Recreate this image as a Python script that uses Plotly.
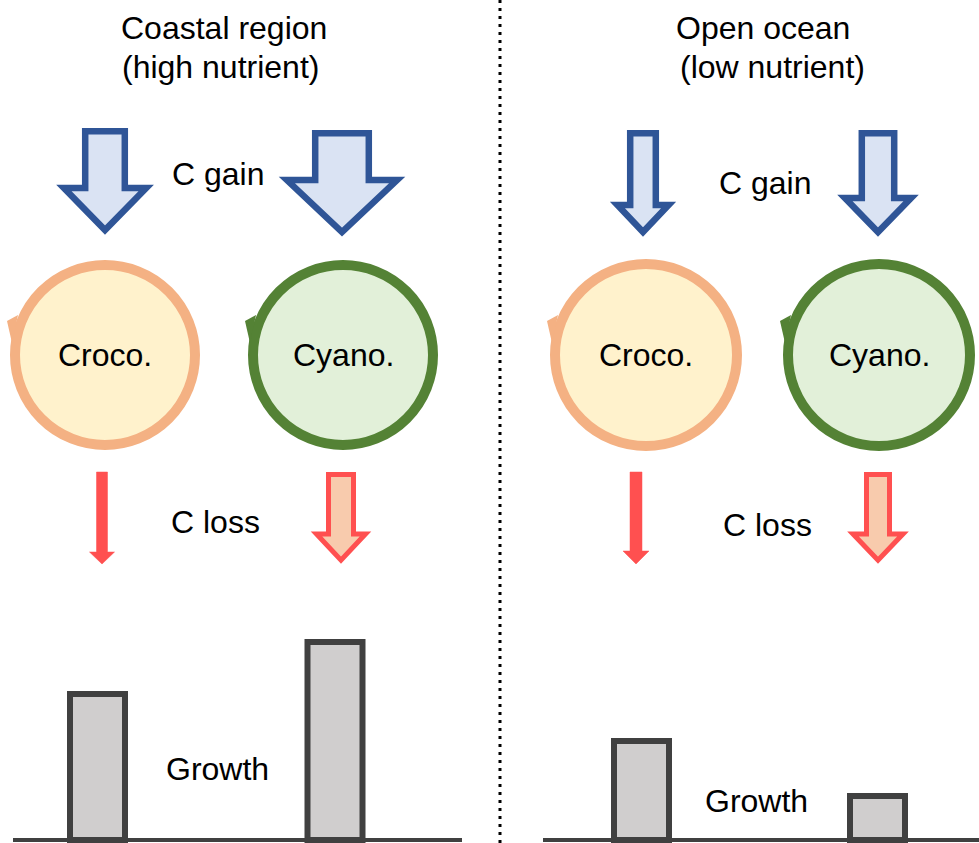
import plotly.graph_objects as go

# ---------------- data ----------------
regions = ["Coastal region", "Open ocean"]
nutrients = ["(high nutrient)", "(low nutrient)"]
organisms = ["Croco.", "Cyano."]
flux_labels = ["C gain", "C loss", "Growth"]
growth_coastal = [1.46, 1.98]   # relative growth (a.u.)
growth_ocean = [0.99, 0.44]

# ---------------- geometry / styles (pixels, y measured from top) ----------------
W, H = 979, 843
FONT = "Liberation Sans, Arial, sans-serif"
PX_PER_UNIT = 100.0
BASE_PY = 840


def Y(py):
    return H - py


BLUE, BLUE_FILL = "#2F5597", "#DAE3F3"
RED, RED_FILL = "#FF5050", "#F8CBAD"
ORANGE, ORANGE_FILL = "#F4B183", "#FFF2CC"
GREEN, GREEN_FILL = "#548235", "#E2F0D9"
BAR_LINE, BAR_FILL = "#404040", "#D0CECE"

# circle centres / radii for [coastal croco, coastal cyano, ocean croco, ocean cyano]
circ_cx = [105, 343, 646, 879]
circ_cy = 355
circ_r = [95, 95, 96, 96]
circ_col = [(ORANGE, ORANGE_FILL), (GREEN, GREEN_FILL), (ORANGE, ORANGE_FILL), (GREEN, GREEN_FILL)]

# gain arrows: (cx, shaft width, top, head base, head width, tip)
gain_arrows = [
    (105, 46, 128, 188, 94, 235),
    (342, 60, 130, 180, 122, 237),
    (643, 32, 130, 205, 63, 237),
    (878, 39, 130, 198, 78, 237),
]
# loss arrows: (cx, shaft width, top, head base, head width, tip, outlined)
loss_arrows = [
    (102, 11, 472, 552, 25, 564, False),
    (341, 30, 472, 534, 58, 564, True),
    (636, 12, 472, 551, 26, 564, False),
    (878, 28, 472, 534, 59, 564, True),
]

bar_x = {"coastal": [97.5, 335.0], "ocean": [641.5, 877.5]}
bar_w = 56

shapes = []


def arrow_path(cx, sw, top, hb, hw, tip, s):
    hs = sw / 2 - s / 2
    hh = hw / 2 - s * 0.9
    t = top + s / 2
    tp = tip - s * 0.75
    pts = [(cx - hs, t), (cx + hs, t), (cx + hs, hb), (cx + hh, hb), (cx, tp),
           (cx - hh, hb), (cx - hs, hb)]
    return "M " + " L ".join(f"{x:.1f},{Y(y):.1f}" for x, y in pts) + " Z"


for a in gain_arrows:
    shapes.append(dict(type="path", path=arrow_path(*a, s=6.5), fillcolor=BLUE_FILL,
                       line=dict(color=BLUE, width=6.5), layer="above"))

for cx, sw, top, hb, hw, tip, outlined in loss_arrows:
    if outlined:
        shapes.append(dict(type="path", path=arrow_path(cx, sw, top, hb, hw, tip, s=5),
                           fillcolor=RED_FILL, line=dict(color=RED, width=5)))
    else:
        pts = [(cx - sw / 2, top), (cx + sw / 2, top), (cx + sw / 2, hb), (cx + hw / 2, hb),
               (cx, tip), (cx - hw / 2, hb), (cx - sw / 2, hb)]
        p = "M " + " L ".join(f"{x:.1f},{Y(y):.1f}" for x, y in pts) + " Z"
        shapes.append(dict(type="path", path=p, fillcolor=RED, line=dict(color=RED, width=0.5)))

# circles with small arrow tip on the left
for cx, r, (lc, fc) in zip(circ_cx, circ_r, circ_col):
    sw = 10
    rr = r - sw / 2
    shapes.append(dict(type="circle", x0=cx - rr, x1=cx + rr, y0=Y(circ_cy + rr), y1=Y(circ_cy - rr),
                       fillcolor=fc, line=dict(color=lc, width=sw)))
    ox = cx - r
    tri = [(ox - 3, circ_cy - 34), (ox + 8, circ_cy - 40), (ox + 2, circ_cy - 12)]
    p = "M " + " L ".join(f"{x:.1f},{Y(y):.1f}" for x, y in tri) + " Z"
    shapes.append(dict(type="path", path=p, fillcolor=lc, line=dict(width=0)))

# baselines
shapes.append(dict(type="line", x0=13, x1=462, y0=Y(BASE_PY), y1=Y(BASE_PY),
                   line=dict(color=BAR_LINE, width=4)))
shapes.append(dict(type="line", x0=543, x1=980, y0=Y(BASE_PY), y1=Y(BASE_PY),
                   line=dict(color=BAR_LINE, width=4)))
# dotted divider
shapes.append(dict(type="line", x0=500, x1=500, y0=0, y1=H,
                   line=dict(color="black", width=3, dash="3px,5px")))

fig = go.Figure()
for key, vals in (("coastal", growth_coastal), ("ocean", growth_ocean)):
    fig.add_trace(go.Bar(
        x=bar_x[key], y=[v * PX_PER_UNIT for v in vals], base=Y(BASE_PY),
        width=[bar_w - 1] * 2, text=organisms, textposition="none",
        marker=dict(color=BAR_FILL, line=dict(color=BAR_LINE, width=6)),
        hoverinfo="skip", showlegend=False))

ann = []


def txt(s, x, py, size=32):
    ann.append(dict(text=s, x=x, y=Y(py), xref="x", yref="y", showarrow=False,
                    xanchor="center", yanchor="middle",
                    font=dict(family=FONT, size=size, color="black")))


txt(regions[0], 224, 28)
txt(nutrients[0], 220, 67)
txt(regions[1], 763, 28)
txt(nutrients[1], 772, 67)
txt(flux_labels[0], 218, 174)
txt(flux_labels[0], 765, 183)
txt(flux_labels[1], 215, 522)
txt(flux_labels[1], 767, 525)
txt(flux_labels[2], 217, 769)
txt(flux_labels[2], 756, 801)
for i, cx in enumerate(circ_cx):
    txt(organisms[i % 2], cx, circ_cy, size=32)

fig.update_layout(
    width=W, height=H, margin=dict(l=0, r=0, t=0, b=0),
    paper_bgcolor="white", plot_bgcolor="white",
    xaxis=dict(range=[0, W], visible=False, fixedrange=True),
    yaxis=dict(range=[0, H], visible=False, fixedrange=True),
    shapes=shapes, annotations=ann, showlegend=False,
)
fig.write_html("out.html", config={"displayModeBar": False},
               post_script="document.body.style.margin='0px';document.body.style.overflow='hidden';")
